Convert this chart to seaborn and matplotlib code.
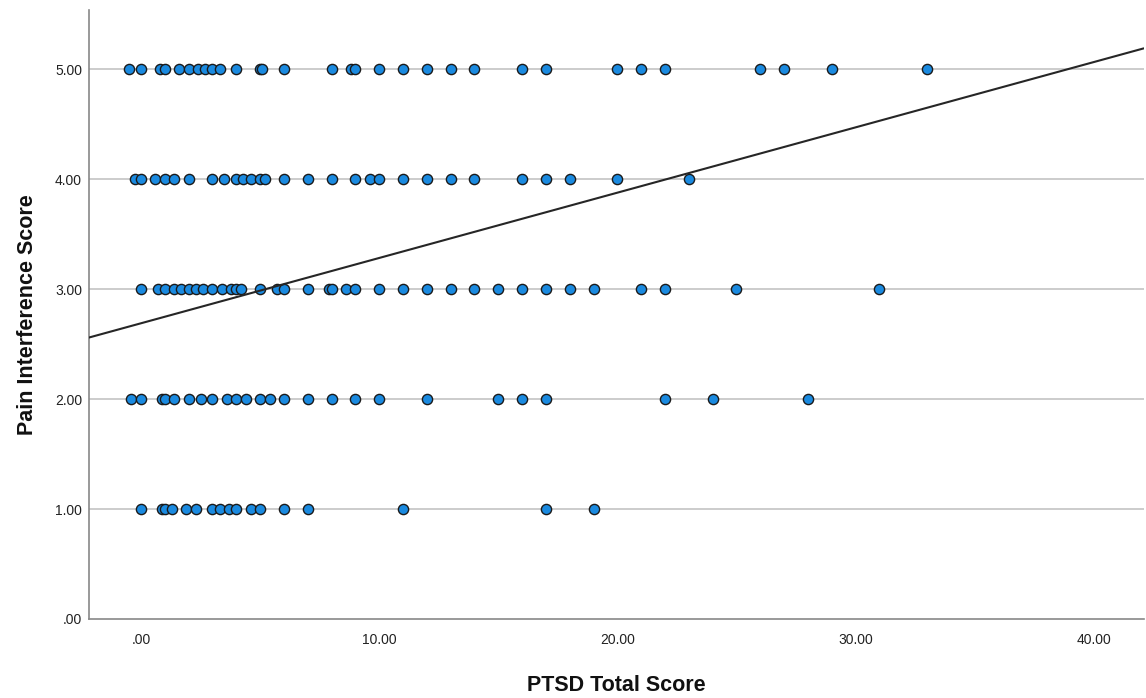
import numpy as np
import pandas as pd
import matplotlib
matplotlib.use("Agg")
import matplotlib.pyplot as plt
import seaborn as sns

ptsd_pain5 = [-0.5, 0, 0.8, 1, 1.6, 2, 2.4, 2.7, 3, 3.3, 4, 5, 5.1, 6, 8, 8.8, 9,
              10, 11, 12, 13, 14, 16, 17, 20, 21, 22, 26, 27, 29, 33]
ptsd_pain4 = [-0.25, 0, 0.6, 1, 1.4, 2, 3, 3.5, 4, 4.3, 4.6, 5, 5.2, 6, 7, 8, 9,
              9.6, 10, 11, 12, 13, 14, 16, 17, 18, 20, 23]
ptsd_pain3 = [0, 0.7, 1, 1.4, 1.7, 2, 2.3, 2.6, 3, 3.4, 3.8, 4, 4.2, 5, 5.7, 6, 7,
              7.9, 8, 8.6, 9, 10, 11, 12, 13, 14, 15, 16, 17, 18, 19, 21, 22, 25, 31]
ptsd_pain2 = [-0.4, 0, 0.9, 1, 1.4, 2, 2.5, 3, 3.6, 4, 4.4, 5, 5.4, 6, 7, 8, 9,
              10, 12, 15, 16, 17, 22, 24, 28]
ptsd_pain1 = [0, 0.9, 1, 1.3, 1.9, 2.3, 3, 3.3, 3.7, 4, 4.6, 5, 6, 7, 11, 17, 19]

# fit line (intercept, slope) as drawn in the chart
fit_intercept = 2.69
fit_slope = 0.0594

x_ticks = [0, 10, 20, 30, 40]
y_ticks = [0, 1, 2, 3, 4, 5]

groups = {5: ptsd_pain5, 4: ptsd_pain4, 3: ptsd_pain3, 2: ptsd_pain2, 1: ptsd_pain1}
df = pd.DataFrame([(x, y) for y, xs in groups.items() for x in xs],
                  columns=["ptsd", "pain"])


def spss_fmt(v):
    s = f"{v:.2f}"
    return s[1:] if v == 0 else s


sns.set_style("white")
plt.rcParams["font.family"] = ["Liberation Sans", "DejaVu Sans"]

fig = plt.figure(figsize=(11.46, 6.98), dpi=100)
ax = fig.add_axes([0.0777, 0.1132, 0.9203, 0.8725])

for y in y_ticks[1:]:
    ax.axhline(y, color="#c8c8c8", lw=1.3, zorder=0)

sns.scatterplot(data=df, x="ptsd", y="pain", ax=ax, s=54, color="#1a8ae0",
                edgecolor="#1a1a1a", linewidth=1.0, zorder=3)

ax.axline((0, fit_intercept), slope=fit_slope, color="#262626", lw=1.5, zorder=4)

ax.set_xlim(-2.18, 42.1)
ax.set_ylim(0, 5.54)
ax.set_xticks(x_ticks)
ax.set_yticks(y_ticks)
ax.set_xticklabels([spss_fmt(v) for v in x_ticks])
ax.set_yticklabels([spss_fmt(v) for v in y_ticks])
ax.tick_params(axis="both", length=0, labelsize=10, colors="#222222")
ax.tick_params(axis="x", pad=10)
ax.tick_params(axis="y", pad=5)

for side in ["top", "right"]:
    ax.spines[side].set_visible(False)
for side in ["left", "bottom"]:
    ax.spines[side].set_color("#888888")
    ax.spines[side].set_linewidth(1.2)

ax.set_xlabel("PTSD Total Score", fontsize=15.5, fontweight="bold",
              labelpad=20, color="#111111")
ax.set_ylabel("Pain Interference Score", fontsize=15.5, fontweight="bold",
              labelpad=12, color="#111111")

fig.savefig("out.png", dpi=100)
